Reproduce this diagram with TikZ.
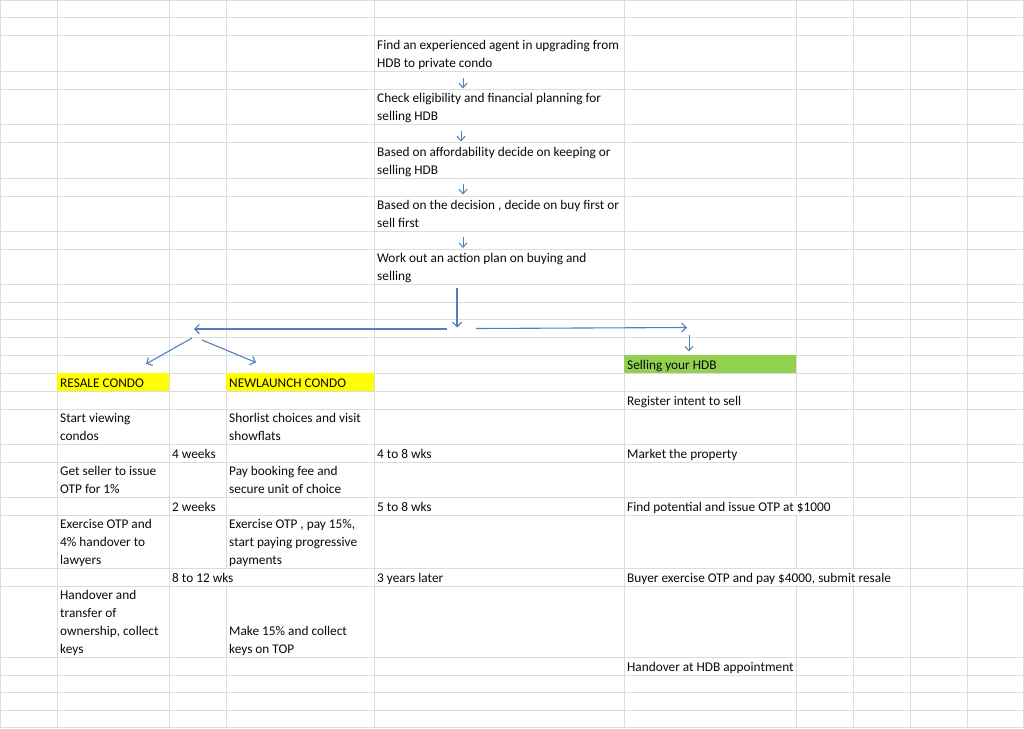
\documentclass[tikz,border=0pt]{standalone}
\usepackage{fontspec}
\setmainfont{Carlito}
\usetikzlibrary{arrows.meta}
\definecolor{gridc}{RGB}{218,220,221}
\definecolor{arrowc}{RGB}{79,129,189}
\definecolor{txt}{RGB}{10,10,10}
\definecolor{xlyellow}{RGB}{255,255,0}
\definecolor{xlgreen}{RGB}{146,208,80}
\tikzset{
  gridline/.style={draw=gridc, line width=1pt},
  cell/.style={anchor=south west, inner sep=0pt, text depth=3.5pt, align=left,
    font=\fontsize{13.3}{18}\selectfont, text=txt},
  flowarrow/.style={draw=arrowc, line width=1.1pt, -{Straight Barb[length=4.5pt,width=9pt]}},
  smallarrow/.style={draw=arrowc, line width=1pt, -{Straight Barb[length=4.5pt,width=8pt]}},
  hidegrid/.style={fill=white, draw=none}
}
\begin{document}
\begin{tikzpicture}[x=1pt,y=-1pt]
\useasboundingbox (0,0) rectangle (1024,728);
\fill[white] (0,0) rectangle (1024,728);
% horizontal grid lines
\foreach \y in {17.5,35,71,89,124,142,178,196,231,249,284,302,319,337,355,373,391,409,444,462,497,515,568,586,657,675,692,710}
  \draw[gridline] (0,\y) -- (1024,\y);
% vertical grid lines
\foreach \x in {57,169,226,374,624,796,853,910,967}
  \draw[gridline] (\x,0) -- (\x,728);
% outer border
\draw[gridline] (0.5,0.5) rectangle (1023.5,727.5);
% grid lines hidden by overflowing text
\fill[hidegrid] (794,497.6) rectangle (798,514.4);
\fill[hidegrid] (794,568.6) rectangle (798,585.4);
\fill[hidegrid] (851,568.6) rectangle (855,585.4);
\fill[hidegrid] (224,568.6) rectangle (228,585.4);
% coloured cells
\fill[xlyellow] (57,373) rectangle (169,391);
\fill[xlyellow] (226,373) rectangle (374,391);
\fill[xlgreen] (624,355) rectangle (796,373);

% flow column
\node[cell] (s1) at (377,71) {Find an experienced agent in upgrading from\\HDB to private condo};
\node[cell] (s2) at (377,124) {Check eligibility and financial planning for\\selling HDB};
\node[cell] (s3) at (377,178) {Based on affordability decide on keeping or\\selling HDB};
\node[cell] (s4) at (377,231) {Based on the decision , decide on buy first or\\sell first};
\node[cell] (s5) at (377,284) {Work out an action plan on buying and\\selling};

% resale column
\node[cell] (rh) at (60,391) {RESALE CONDO};
\node[cell] (r1) at (60,444) {Start viewing\\condos};
\node[cell] (r2) at (60,497) {Get seller to issue\\OTP for 1\%};
\node[cell] (r3) at (60,568) {Exercise OTP and\\4\% handover to\\lawyers};
\node[cell] (r4) at (60,657) {Handover and\\transfer of\\ownership, collect\\keys};
\node[cell] (rt1) at (172,462) {4 weeks};
\node[cell] (rt2) at (172,515) {2 weeks};
\node[cell] (rt3) at (172,586) {8 to 12 wks};

% new launch column
\node[cell] (nh) at (229,391) {NEWLAUNCH CONDO};
\node[cell] (n1) at (229,444) {Shorlist choices and visit\\showflats};
\node[cell] (n2) at (229,497) {Pay booking fee and\\secure unit of choice};
\node[cell] (n3) at (229,568) {Exercise OTP , pay 15\%,\\start paying progressive\\payments};
\node[cell] (n4) at (229,657) {Make 15\% and collect\\keys on TOP};
\node[cell] (nt1) at (377,462) {4 to 8 wks};
\node[cell] (nt2) at (377,515) {5 to 8 wks};
\node[cell] (nt3) at (377,586) {3 years later};

% selling column
\node[cell] (hh) at (627,373) {Selling your HDB};
\node[cell] (h1) at (627,409) {Register intent to sell};
\node[cell] (h2) at (627,462) {Market the property};
\node[cell] (h3) at (627,515) {Find potential and issue OTP at \$1000};
\node[cell] (h4) at (627,586) {Buyer exercise OTP and pay \$4000, submit resale};
\node[cell] (h5) at (627,675) {Handover at HDB appointment};

% arrow end points
\coordinate (a1s) at (463,77.5);  \coordinate (a1e) at (463,88.5);
\coordinate (a2s) at (461,130.5); \coordinate (a2e) at (461,141.5);
\coordinate (a3s) at (463,183.5); \coordinate (a3e) at (463,194.5);
\coordinate (a4s) at (463,237);   \coordinate (a4e) at (463,248);
\coordinate (vs) at (457,288);    \coordinate (ve) at (457,327.5);
\coordinate (ls) at (447,329);    \coordinate (le) at (194,329);
\coordinate (rs) at (476,328.5);  \coordinate (re) at (687,327.5);
\coordinate (ds) at (689,335);    \coordinate (de) at (689,351.5);
\coordinate (dls) at (192,338);   \coordinate (dle) at (146,364);
\coordinate (drs) at (202,340);   \coordinate (dre) at (256,362.5);

\draw[smallarrow] (a1s) -- (a1e);
\draw[smallarrow] (a2s) -- (a2e);
\draw[smallarrow] (a3s) -- (a3e);
\draw[smallarrow] (a4s) -- (a4e);
\draw[flowarrow] (vs) -- (ve);
\draw[flowarrow] (ls) -- (le);
\draw[flowarrow] (rs) -- (re);
\draw[smallarrow] (ds) -- (de);
\draw[flowarrow] (dls) -- (dle);
\draw[flowarrow] (drs) -- (dre);
\end{tikzpicture}
\end{document}
